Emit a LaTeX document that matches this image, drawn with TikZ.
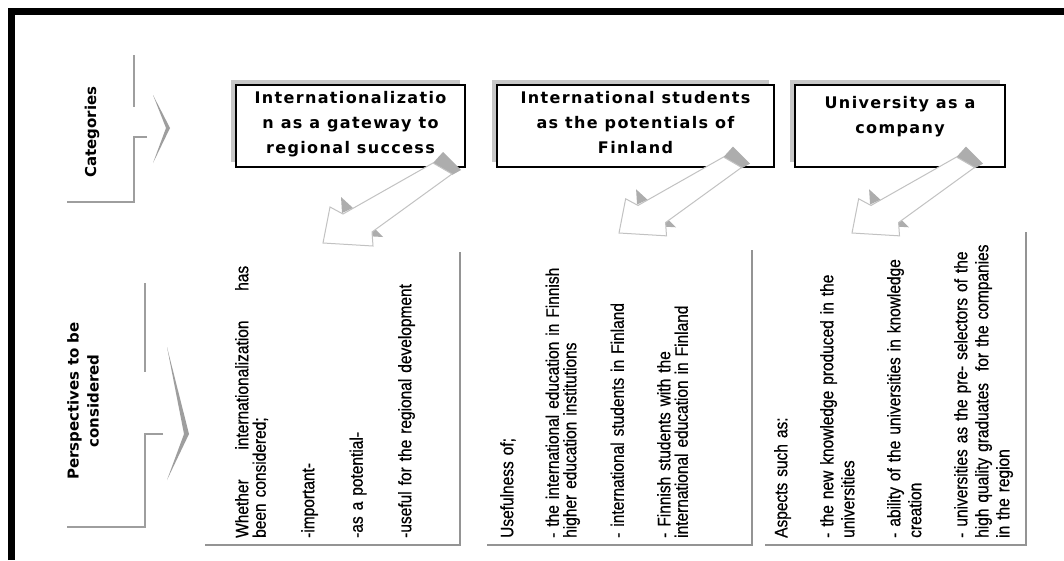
\documentclass[tikz,border=0pt]{standalone}
\usepackage{fontspec}
\usetikzlibrary{shadows}
\setmainfont{Liberation Sans}
\newfontfamily\boxfont[LetterSpace=8.5]{DejaVu Sans}
\newfontfamily\labfont{DejaVu Sans}
\newfontfamily\panelfont[FakeStretch=0.86,FakeBold=0.6]{Liberation Sans}
\definecolor{brkc}{gray}{0.62}
\definecolor{plc}{gray}{0.58}
\definecolor{ashade}{gray}{0.68}
\definecolor{aline}{gray}{0.76}
\begin{document}
\begin{tikzpicture}[x=1pt,y=-1pt,
  brk/.style={draw=brkc, line width=2.6pt},
  chev/.style={fill=brkc},
  pl/.style={draw=plc, line width=1.5pt},
  catbox/.style={draw=black, line width=2.8pt, fill=white, minimum height=82pt, inner sep=0pt,
     drop shadow={shadow xshift=-5pt, shadow yshift=5pt, fill=gray!55, opacity=0.8}},
  cattext/.style={anchor=north, inner sep=0pt, align=center,
     font=\boxfont\bfseries\fontsize{16}{25}\selectfont},
  lab/.style={inner sep=0pt, align=center, font=\labfont\bfseries\fontsize{15}{20}\selectfont},
  panel/.style={rotate=90, anchor=north west, inner sep=0pt, align=left, text width=300pt},
  bigarrow/.pic={
    \fill[ashade] (110,-80) -- (120,-91) -- (138,-73) -- (129,-68) -- cycle;
    \fill[ashade] (18,-46) -- (30,-35) -- (19,-30) -- cycle;
    \fill[ashade] (42,-7) -- (60,-6) -- (52,-14) -- cycle;
    \draw[aline, fill=white, line width=1pt, line join=miter]
      (0,0) -- (7,-36) -- (20,-29) -- (110,-80) -- (129,-69) -- (49,-11) -- (50,3) -- cycle;
  }]
\useasboundingbox (0,0) rectangle (1064,560);
\fill[white] (0,0) rectangle (1064,560);
% outer frame
\draw[line width=7pt] (11.5,560) -- (11.5,11.5) -- (1064,11.5);

% left labels and brackets
\node[lab, rotate=90] (lcat) at (92,132) {Categories};
\draw[brk] (134,55) -- (134,107);
\draw[brk] (147,137) -- (134,137) -- (134,202) -- (67,202);
\fill[chev] (153,95) -- (170,128) -- (153,163) -- (166,128) -- cycle;

\node[lab, rotate=90] (lper) at (83,401) {Perspectives to be\\considered};
\draw[brk] (145,283) -- (145,372);
\draw[brk] (163,434) -- (145,434) -- (145,527) -- (67,527);
\fill[chev] (167,347) -- (189,434) -- (167,480) -- (184,434) -- cycle;

% category boxes
\node[catbox, minimum width=229pt] (b1) at (350.5,126) {};
\node[catbox, minimum width=277pt] (b2) at (635.5,126) {};
\node[catbox, minimum width=210pt] (b3) at (900,126) {};
\node[cattext] (t1) at (b1.center |- 0,91) {Internationalizatio\\n as a gateway to\\regional success};
\node[cattext] (t2) at (b2.center |- 0,91) {International students\\as the potentials of\\Finland};
\node[cattext] (t3) at (b3.center |- 0,96) {University as a\\company};

% block arrows
\pic (a1) at (323,243) {bigarrow};
\pic[scale=0.95] (a2) at (619,233) {bigarrow};
\pic[scale=0.95] (a3) at (852,233) {bigarrow};

% panels
\draw[pl] (205,545) -- (460,545) -- (460,252);
\draw[pl] (487,545) -- (752,545) -- (752,250);
\draw[pl] (765,545) -- (1026,545) -- (1026,232);

\node[panel, font=\panelfont\fontsize{18}{17.5}\selectfont] (p1) at (235,538)
 {\makebox[272pt][l]{Whether\hfill internationalization\hfill has}\\
  been considered;\\[31pt]
  -important-\\[31pt]
  -as a potential-\\[31pt]
  -useful for the regional development};
\node[panel, font=\panelfont\fontsize{18}{17.5}\selectfont] (p2) at (500,538)
 {Usefulness of;\\[28pt]
  - the international education in Finnish\\
  higher education institutions\\[30pt]
  - international students in Finland\\[29pt]
  - Finnish students with the\\
  international education in Finland};
\node[panel, font=\panelfont\fontsize{18}{21}\selectfont] (p3) at (774,538)
 {Aspects such as:\\[25pt]
  - the new knowledge produced in the\\
  universities\\[25pt]
  - ability of the universities in knowledge\\
  creation\\[25pt]
  - universities as the pre- selectors of the\\
  high quality graduates \ for the companies\\
  in the region};
\end{tikzpicture}
\end{document}
